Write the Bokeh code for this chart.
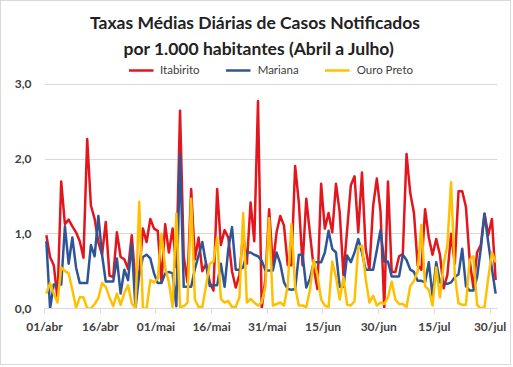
from bokeh.plotting import figure
from bokeh.models import Range1d, FixedTicker, Legend, LegendItem, Title
from bokeh.embed import file_html
from bokeh.resources import INLINE

title_lines = ["Taxas Médias Diárias de Casos Notificados",
               "por 1.000 habitantes (Abril a Julho)"]
series_names = ["Itabirito", "Mariana", "Ouro Preto"]
series_colors = ["#e3161d", "#2f5597", "#ffc000"]

day_index = list(range(122))  # 01/abr .. 31/jul

itabirito = [0.98, 0.69, 0.58, 0.13, 1.70, 1.13, 1.19, 1.10, 1.02, 0.90,
             0.68, 2.27, 1.38, 1.20, 0.89, 0.72, 1.16, 0.44, 0.42, 1.02,
             0.69, 0.66, 0.53, 0.98, 0.35, 0.45, 1.07, 0.89, 1.20, 1.07,
             1.04, 0.35, 1.13, 0.75, 1.07, 0.55, 2.65, 0.70, 0.35, 1.60,
             0.66, 0.95, 0.50, 0.60, 0.35, 0.24, 1.60, 0.85, 1.05, 0.95,
             0.50, 0.28, 0.45, 1.00, 0.60, 1.42, 0.90, 2.78, 0.00, 0.40,
             1.33, 0.58, 1.02, 1.24, 1.11, 0.58, 0.58, 1.91, 1.42, 0.58,
             1.47, 1.00, 0.55, 0.26, 1.67, 1.07, 1.28, 1.02, 1.67, 1.29,
             0.45, 1.05, 1.65, 1.77, 1.02, 1.82, 0.80, 0.52, 1.37, 1.74,
             1.30, 0.00, 1.70, 0.49, 0.49, 0.70, 0.73, 2.07, 1.55, 1.28,
             0.58, 0.52, 1.33, 0.95, 0.72, 0.93, 0.72, 0.27, 0.45, 1.00,
             0.60, 1.57, 1.57, 1.36, 0.65, 0.28, 0.75, 0.85, 1.27, 0.98,
             1.20, 0.38]

mariana = [0.90, 0.00, 0.32, 0.32, 0.32, 1.10, 0.60, 0.95, 0.55, 0.34,
           0.34, 0.34, 0.85, 0.70, 1.24, 0.72, 0.36, 0.36, 0.36, 0.67,
           0.20, 0.52, 0.38, 0.87, 0.00, 0.45, 0.69, 0.72, 0.67, 0.47,
           0.34, 0.34, 0.47, 0.49, 0.47, 0.03, 2.07, 0.29, 0.29, 0.29,
           0.53, 0.71, 0.89, 0.60, 0.30, 0.31, 0.31, 0.60, 0.29, 0.80,
           1.09, 0.52, 0.52, 0.55, 0.75, 0.75, 0.72, 0.70, 0.64, 0.51,
           0.51, 0.51, 0.75, 0.60, 0.35, 0.26, 0.25, 0.26, 0.72, 0.72,
           0.28, 0.40, 0.62, 0.62, 0.62, 0.75, 1.04, 0.80, 0.75, 0.29,
           0.29, 0.71, 0.62, 0.75, 0.93, 0.75, 0.52, 0.52, 0.52, 0.78,
           1.05, 0.63, 0.63, 0.43, 0.43, 0.43, 0.72, 0.65, 0.52, 0.49,
           0.37, 0.37, 0.35, 0.62, 0.17, 0.62, 0.35, 0.33, 0.33, 0.35,
           0.42, 0.46, 0.80, 0.30, 0.24, 0.24, 0.42, 0.80, 1.27, 0.89,
           0.53, 0.20]

ouro_preto = [0.20, 0.34, 0.20, 0.08, 0.55, 0.50, 0.47, 0.25, 0.01, 0.15,
              0.15, 0.00, 0.00, 0.06, 0.14, 0.34, 0.29, 0.15, 0.03, 0.20,
              0.05, 0.21, 0.31, 0.07, 0.00, 1.43, 0.00, 0.00, 0.38, 0.35,
              0.40, 1.00, 0.55, 0.35, 0.02, 1.27, 0.02, 0.03, 0.08, 1.47,
              0.12, 0.02, 0.02, 0.30, 0.60, 0.63, 0.95, 0.13, 0.08, 0.10,
              0.02, 0.02, 0.15, 1.28, 0.08, 0.13, 0.08, 0.04, 0.08, 0.30,
              1.21, 0.04, 0.06, 0.08, 0.04, 0.30, 1.13, 0.28, 0.04, 0.04,
              0.02, 0.25, 0.65, 0.45, 0.12, 0.04, 0.02, 0.63, 0.42, 0.12,
              0.42, 0.05, 0.04, 0.10, 0.82, 0.84, 0.40, 0.08, 0.17, 0.04,
              0.08, 0.06, 0.15, 0.36, 0.12, 0.06, 0.06, 0.02, 0.30, 0.37,
              0.50, 1.12, 0.30, 0.25, 0.04, 0.55, 0.15, 0.60, 0.85, 1.69,
              0.45, 0.07, 0.05, 0.05, 0.65, 0.70, 0.05, 0.00, 0.02, 0.40,
              0.75, 0.62]

x_tick_days = [0, 15, 30, 45, 60, 75, 90, 105, 120]
x_tick_labels = ["01/abr", "16/abr", "01/mai", "16/mai", "31/mai",
                 "15/jun", "30/jun", "15/jul", "30/jul"]
y_ticks = [0, 1, 2, 3]
y_tick_labels = ["0,0", "1,0", "2,0", "3,0"]

FONT = "Lato"
TEXT = "#404040"
GRID = "#d9d9d9"

# frame spans 248 px; 3,0 sits 24 px below its top (74.67 px per unit)
y_top = 3 + 24 / 74.67

p = figure(width=511, height=365, output_backend="svg", toolbar_location=None,
           x_range=Range1d(0, len(day_index)), y_range=Range1d(0, y_top),
           min_border_left=43, min_border_right=15, min_border_bottom=58,
           min_border_top=59)
p.styles = {"border": "1px solid #d9d9d9"}
p.title.text = ""
p.title.visible = False
p.outline_line_color = None
p.background_fill_color = "white"
p.border_fill_color = "white"

# each day is centered in its slot on the date axis
xs = [d + 0.5 for d in day_index]
renderers = []
for vals, col in zip([itabirito, mariana, ouro_preto], series_colors):
    r = p.line(xs, vals, line_color=col, line_width=2.5, line_join="round")
    renderers.append(r)

p.xaxis.ticker = FixedTicker(ticks=x_tick_days)
p.xaxis.major_label_overrides = {d: l for d, l in zip(x_tick_days, x_tick_labels)}
p.xaxis.minor_tick_line_color = None
p.xaxis.axis_line_color = GRID
p.xaxis.major_tick_line_color = GRID
p.xaxis.major_tick_in = 0
p.xaxis.major_tick_out = 5
p.xaxis.major_label_standoff = 5
p.xaxis.major_label_text_font = FONT
p.xaxis.major_label_text_font_size = "12px"
p.xaxis.major_label_text_font_style = "bold"
p.xaxis.major_label_text_color = TEXT

p.yaxis.ticker = FixedTicker(ticks=y_ticks)
p.yaxis.major_label_overrides = {t: l for t, l in zip(y_ticks, y_tick_labels)}
p.yaxis.minor_tick_line_color = None
p.yaxis.axis_line_color = None
p.yaxis.major_tick_line_color = None
p.yaxis.major_tick_in = 0
p.yaxis.major_tick_out = 0
p.yaxis.major_label_standoff = 13
p.yaxis.major_label_text_font = FONT
p.yaxis.major_label_text_font_size = "12px"
p.yaxis.major_label_text_font_style = "bold"
p.yaxis.major_label_text_color = TEXT

p.xgrid.grid_line_color = None
p.ygrid.grid_line_color = GRID
p.ygrid.grid_line_width = 1

legend = Legend(items=[LegendItem(label=n, renderers=[r]) for n, r in zip(series_names, renderers)],
                orientation="horizontal", location="top_center",
                spacing=26, glyph_width=25, glyph_height=12, label_height=12,
                label_standoff=7, padding=0, margin=3,
                border_line_alpha=0, background_fill_alpha=0,
                label_text_font=FONT, label_text_font_size="11.5px",
                label_text_color=TEXT)
p.add_layout(legend)

t2 = Title(text=title_lines[1], align="left", offset=79, standoff=4,
           text_font=FONT, text_font_size="17.5px", text_font_style="bold",
           text_color="#222222")
t1 = Title(text=title_lines[0], align="left", offset=45.5, standoff=2,
           text_font=FONT, text_font_size="17.5px", text_font_style="bold",
           text_color="#222222")
p.add_layout(t2, "above")
p.add_layout(t1, "above")

open("out.html", "w").write(file_html(p, INLINE))
